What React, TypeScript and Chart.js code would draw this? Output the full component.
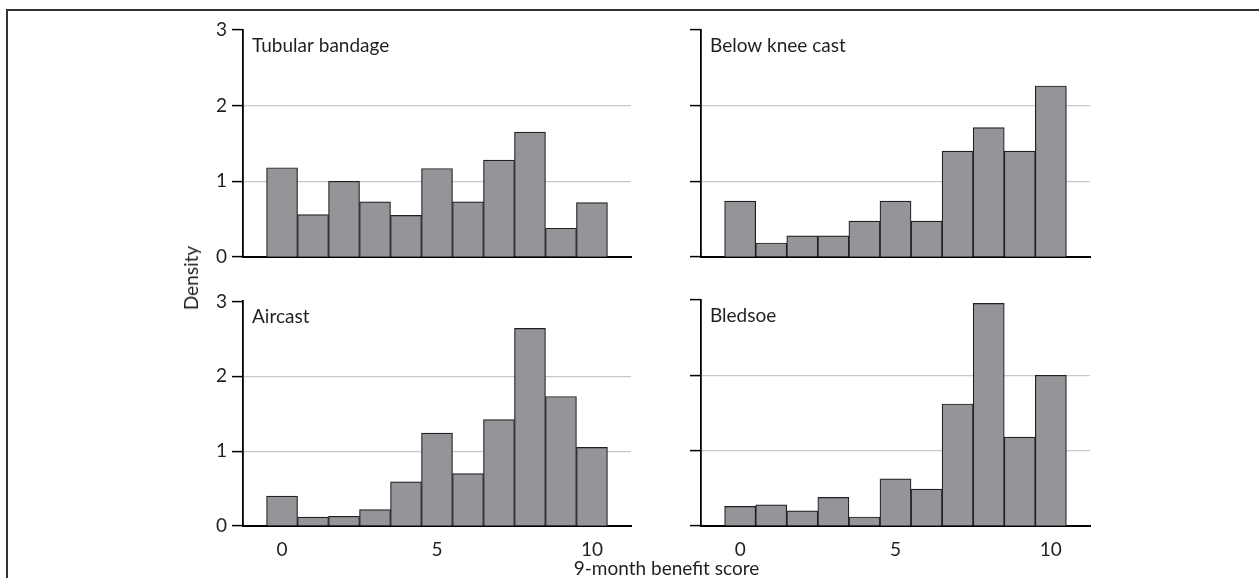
import React, { useEffect, useRef } from "react";
import { Chart, registerables } from "chart.js";

Chart.register(...registerables);

// ---- data ----
const BIN_CENTERS = [0, 1, 2, 3, 4, 5, 6, 7, 8, 9, 10];
const TUBULAR_BANDAGE = [1.18, 0.56, 1.0, 0.73, 0.55, 1.17, 0.73, 1.28, 1.65, 0.38, 0.72];
const BELOW_KNEE_CAST = [0.74, 0.185, 0.28, 0.28, 0.475, 0.74, 0.475, 1.4, 1.71, 1.4, 2.26];
const AIRCAST = [0.4, 0.12, 0.13, 0.22, 0.59, 1.24, 0.7, 1.42, 2.64, 1.73, 1.05];
const BLEDSOE = [0.26, 0.28, 0.2, 0.38, 0.12, 0.625, 0.49, 1.62, 2.955, 1.18, 2.0];
const PANEL_TITLES = ["Tubular bandage", "Below knee cast", "Aircast", "Bledsoe"];
const Y_TICKS = [0, 1, 2, 3];
const X_TICKS = [0, 5, 10];
const GRID_VALUES = [1, 2];
const Y_TITLE = "Density";
const X_TITLE = "9-month benefit score";

// ---- style ----
const FONT_FAMILY = "Lato, 'Open Sans', sans-serif";
const FONT_SIZE = 19;
const TEXT_COLOR = "#231f20";
const BAR_FILL = "#939598";
const BAR_EDGE = "#231f20";
const GRID_COLOR = "#c8c8c8";
const X_MIN = -1.26;
const X_MAX = 11.26;

const panelTitlePlugin = {
  id: "panelTitle",
  afterDraw(chart: any, _args: any, opts: any) {
    const { ctx, chartArea } = chart;
    ctx.save();
    ctx.font = `${FONT_SIZE}px ${FONT_FAMILY}`;
    ctx.fillStyle = TEXT_COLOR;
    ctx.textAlign = "left";
    ctx.textBaseline = "alphabetic";
    ctx.fillText(opts.text, chartArea.left + 9, chartArea.top + 22);
    ctx.restore();
  },
};

type Area = { l: number; t: number; r: number; b: number };
type PanelProps = {
  values: number[];
  title: string;
  left: number;
  top: number;
  width: number;
  height: number;
  area: Area;
  yLabels: boolean;
  xLabels: boolean;
};

function Panel(p: PanelProps) {
  const ref = useRef<HTMLCanvasElement>(null);
  useEffect(() => {
    if (!ref.current) return;
    const font = { family: FONT_FAMILY, size: FONT_SIZE };
    const chart = new Chart(ref.current, {
      type: "bar",
      data: {
        datasets: [
          {
            data: BIN_CENTERS.map((x, i) => ({ x, y: p.values[i] })),
            backgroundColor: BAR_FILL,
            borderColor: BAR_EDGE,
            borderWidth: 1.2,
            barPercentage: 1,
            categoryPercentage: 1,
          } as any,
        ],
      },
      options: {
        responsive: false,
        animation: false,
        devicePixelRatio: 1,
        layout: {
          padding: {
            left: 0,
            top: p.area.t - p.top,
            right: p.left + p.width - p.area.r,
            bottom: 0,
          },
        },
        plugins: {
          legend: { display: false },
          tooltip: { enabled: false },
          panelTitle: { text: p.title },
        } as any,
        scales: {
          x: {
            type: "linear",
            min: X_MIN,
            max: X_MAX,
            offset: false,
            afterBuildTicks: (s: any) => {
              s.ticks = X_TICKS.map((v) => ({ value: v }));
            },
            afterFit: (s: any) => {
              s.height = p.top + p.height - p.area.b;
            },
            grid: { display: false, offset: false },
            border: { display: true, color: "#000", width: 2 },
            ticks: {
              display: p.xLabels,
              padding: 4,
              font,
              color: TEXT_COLOR,
              maxRotation: 0,
              autoSkip: false,
            },
          },
          y: {
            type: "linear",
            min: 0,
            max: 3,
            afterBuildTicks: (s: any) => {
              s.ticks = Y_TICKS.map((v) => ({ value: v }));
            },
            afterFit: (s: any) => {
              s.width = p.area.l - p.left;
            },
            grid: {
              color: (c: any) =>
                c.tick && GRID_VALUES.includes(c.tick.value) ? GRID_COLOR : "rgba(0,0,0,0)",
              tickColor: "#000",
              tickLength: 11,
              tickWidth: 1.5,
              lineWidth: 1.2,
              drawTicks: true,
            },
            border: { display: true, color: "#000", width: 1.8 },
            ticks: {
              display: p.yLabels,
              padding: 5,
              font,
              color: TEXT_COLOR,
              callback: (v: any) => String(v),
            },
          },
        },
      } as any,
      plugins: [panelTitlePlugin],
    });
    return () => chart.destroy();
  }, []);
  return (
    <canvas
      ref={ref}
      width={p.width}
      height={p.height}
      style={{
        position: "absolute",
        left: p.left,
        top: p.top,
        width: p.width,
        height: p.height,
      }}
    />
  );
}

export default function App() {
  const textStyle: React.CSSProperties = {
    position: "absolute",
    fontFamily: FONT_FAMILY,
    fontSize: FONT_SIZE,
    color: TEXT_COLOR,
    whiteSpace: "nowrap",
    lineHeight: "20px",
  };
  return (
    <div
      style={{
        position: "absolute",
        left: 0,
        top: 0,
        width: 1259,
        height: 578,
        overflow: "hidden",
        background: "#fff",
      }}
    >
      <div
        style={{
          position: "absolute",
          left: 6,
          top: 9,
          width: 1259,
          height: 600,
          borderLeft: "2px solid #333",
          borderTop: "2px solid #333",
        }}
      />
      <Panel
        values={TUBULAR_BANDAGE}
        title={PANEL_TITLES[0]}
        left={160}
        top={10}
        width={480}
        height={270}
        area={{ l: 243, t: 30, r: 631, b: 257 }}
        yLabels={true}
        xLabels={false}
      />
      <Panel
        values={BELOW_KNEE_CAST}
        title={PANEL_TITLES[1]}
        left={660}
        top={10}
        width={450}
        height={270}
        area={{ l: 701, t: 30, r: 1090, b: 257 }}
        yLabels={false}
        xLabels={false}
      />
      <Panel
        values={AIRCAST}
        title={PANEL_TITLES[2]}
        left={160}
        top={285}
        width={480}
        height={293}
        area={{ l: 243, t: 300, r: 631, b: 526 }}
        yLabels={true}
        xLabels={true}
      />
      <Panel
        values={BLEDSOE}
        title={PANEL_TITLES[3]}
        left={660}
        top={285}
        width={450}
        height={293}
        area={{ l: 701, t: 300, r: 1090, b: 526 }}
        yLabels={false}
        xLabels={true}
      />
      <div
        style={{
          ...textStyle,
          left: 191,
          top: 278,
          transform: "translate(-50%, -50%) rotate(-90deg)",
        }}
      >
        {Y_TITLE}
      </div>
      <div
        style={{
          ...textStyle,
          left: 243,
          width: 847,
          top: 558,
          textAlign: "center",
        }}
      >
        {X_TITLE}
      </div>
    </div>
  );
}
